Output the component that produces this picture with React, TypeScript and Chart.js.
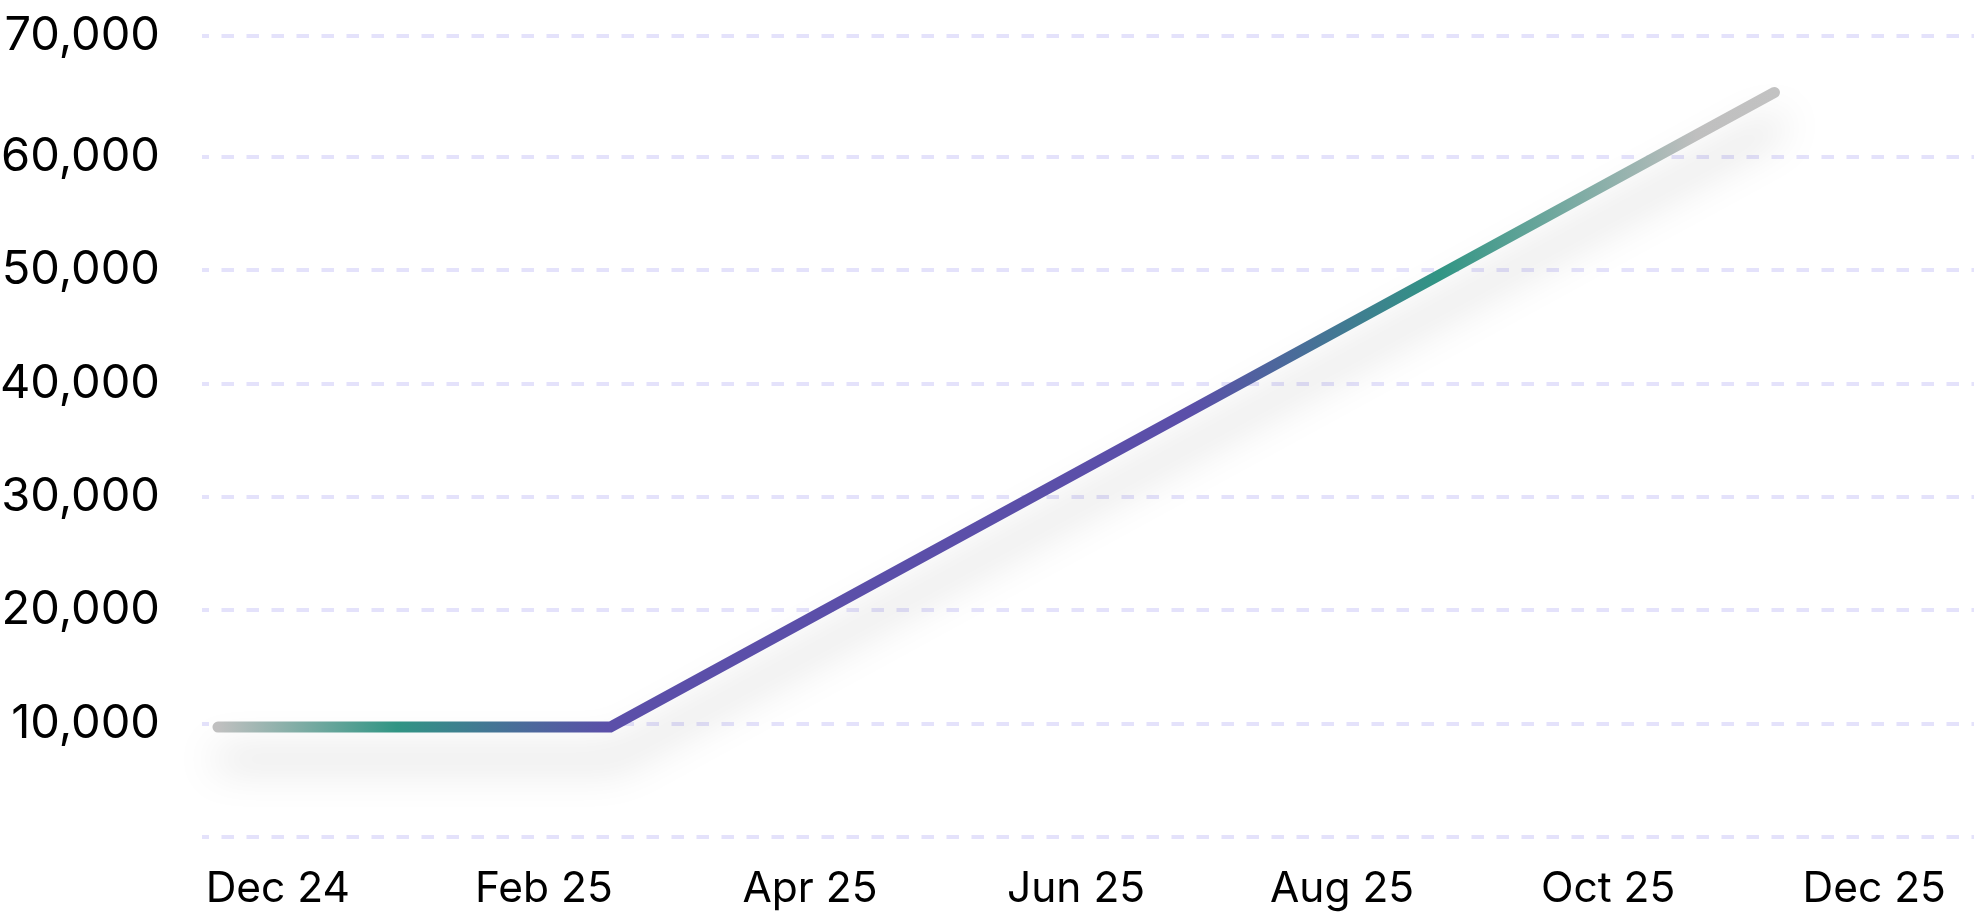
import React, { useEffect, useRef } from 'react';
import { Chart, registerables } from 'chart.js';

Chart.register(...registerables);

// X axis: months counted from Dec 2024
const xTickMonths = [0, 2, 4, 6, 8, 10, 12];
const xTickLabels = ['Dec 24', 'Feb 25', 'Apr 25', 'Jun 25', 'Aug 25', 'Oct 25', 'Dec 25'];
const xRange = [-0.57, 12.75];

// Series
const pointMonths = [-0.45, 2.5, 11.25];
const pointValues = [9700, 9700, 65700];

// Y axis
const yTickValues = [0, 10000, 20000, 30000, 40000, 50000, 60000, 70680];
const yTickLabels = ['', '10,000', '20,000', '30,000', '40,000', '50,000', '60,000', '70,000'];

// Line gradient (along the line, left to right)
const gradientStops = [0, 0.115, 0.25, 0.625, 0.785, 0.95, 1];
const gradientColors = ['#c0c0c0', '#319584', '#5b4fa9', '#5b4fa9', '#319584', '#bfbfbf', '#c2c2c2'];

const FONT = 'Inter, "Noto Sans", sans-serif';

const shadowPlugin = {
  id: 'lineShadow',
  beforeDatasetDraw(chart: any) {
    const ctx = chart.ctx;
    ctx.save();
    ctx.shadowColor = 'rgba(0,0,0,0.22)';
    ctx.shadowBlur = 40;
    ctx.shadowOffsetX = 3;
    ctx.shadowOffsetY = 32;
  },
  afterDatasetDraw(chart: any) {
    chart.ctx.restore();
  },
};

export default function App() {
  const ref = useRef<HTMLCanvasElement | null>(null);

  useEffect(() => {
    if (!ref.current) return;
    const data = pointMonths.map((m, i) => ({ x: m, y: pointValues[i] }));
    const chart = new Chart(ref.current, {
      type: 'line',
      data: {
        datasets: [
          {
            data,
            borderWidth: 11,
            borderCapStyle: 'round',
            borderJoinStyle: 'miter',
            pointRadius: 0,
            tension: 0,
            clip: false as any,
            borderColor: (c: any) => {
              const chartObj = c.chart;
              const xs = chartObj.scales?.x;
              if (!chartObj.chartArea || !xs) return gradientColors[2];
              const x0 = xs.getPixelForValue(pointMonths[0]);
              const x1 = xs.getPixelForValue(pointMonths[pointMonths.length - 1]);
              const g = chartObj.ctx.createLinearGradient(x0, 0, x1, 0);
              gradientStops.forEach((s, i) => g.addColorStop(s, gradientColors[i]));
              return g;
            },
          },
        ],
      },
      options: {
        animation: false,
        responsive: false,
        maintainAspectRatio: false,
        layout: { padding: { top: 36, right: 0, bottom: 0, left: 0 } },
        plugins: { legend: { display: false }, tooltip: { enabled: false } },
        scales: {
          x: {
            type: 'linear',
            min: xRange[0],
            max: xRange[1],
            afterBuildTicks: (s: any) => {
              s.ticks = xTickMonths.map((v) => ({ value: v }));
            },
            afterFit: (s: any) => {
              s.height = 84;
              s.paddingLeft = 0;
              s.paddingRight = 0;
            },
            grid: { display: false, drawTicks: false },
            border: { display: false },
            ticks: {
              autoSkip: false,
              maxRotation: 0,
              padding: 27,
              color: '#000000',
              font: { family: FONT, size: 42.5 },
              callback: (_v: any, i: number) => xTickLabels[i],
            },
          },
          y: {
            type: 'linear',
            min: yTickValues[0],
            max: yTickValues[yTickValues.length - 1],
            afterBuildTicks: (s: any) => {
              s.ticks = yTickValues.map((v) => ({ value: v }));
            },
            afterFit: (s: any) => {
              s.width = 202;
              s.paddingTop = 0;
              s.paddingBottom = 0;
            },
            grid: {
              color: '#e4e2fb',
              lineWidth: 4,
              drawTicks: false,
            },
            border: { display: false, dash: [12.5, 12.5], dashOffset: 5.5 },
            ticks: {
              padding: 42,
              color: '#000000',
              font: { family: FONT, size: 47 },
              callback: (_v: any, i: number) => yTickLabels[i],
            },
          },
        },
      },
      plugins: [shadowPlugin],
    } as any);
    return () => chart.destroy();
  }, []);

  return (
    <div style={{ position: 'absolute', left: 0, top: 0, width: 1974, height: 921, background: '#ffffff' }}>
      <canvas ref={ref} width={1974} height={921} style={{ width: 1974, height: 921, display: 'block' }} />
    </div>
  );
}
